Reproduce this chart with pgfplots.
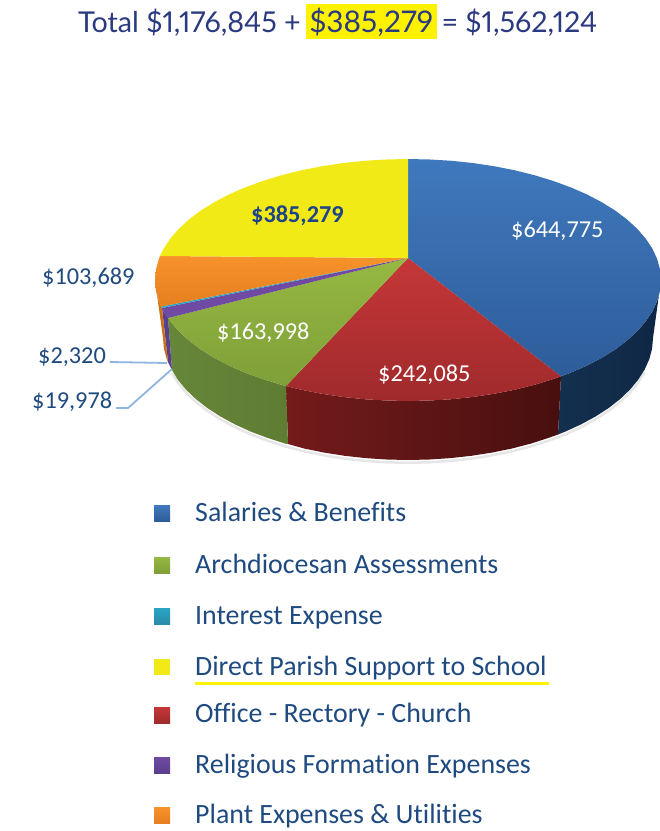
\documentclass[border=0pt]{standalone}
\usepackage{fontspec}
\setmainfont{Carlito}[Ligatures=NoCommon]
\newfontfamily\titlefont{Lato}[Numbers=Proportional]
\usepackage{pgfplots}
\pgfplotsset{compat=1.18}
\definecolor{inktitle}{HTML}{2B3A80}
\definecolor{inklabel}{HTML}{1F4A80}
\definecolor{inkbold}{HTML}{1D4388}
\definecolor{hilite}{HTML}{FFF200}
\definecolor{leader}{HTML}{8FB4E0}
\definecolor{blueA}{HTML}{3F79BD}
\definecolor{blueB}{HTML}{2E5C9A}
\definecolor{blueSa}{HTML}{14304F}
\definecolor{blueSb}{HTML}{0F2745}
\definecolor{redA}{HTML}{C53738}
\definecolor{redB}{HTML}{A02A2C}
\definecolor{redSa}{HTML}{741B1B}
\definecolor{redSb}{HTML}{480F0F}
\definecolor{greenA}{HTML}{96B842}
\definecolor{greenB}{HTML}{7F9F38}
\definecolor{greenSa}{HTML}{66863A}
\definecolor{greenSb}{HTML}{5F7D32}
\definecolor{purpA}{HTML}{6F4AA2}
\definecolor{purpB}{HTML}{5B3F8F}
\definecolor{orgA}{HTML}{F8922A}
\definecolor{orgB}{HTML}{E57F20}
\definecolor{orgS}{HTML}{C9701A}
\definecolor{yell}{HTML}{F1EA17}
\definecolor{teal}{HTML}{2AA5C4}
\definecolor{tealB}{HTML}{2A8AA8}
\pgfplotsset{face/.style={draw=none,no markers,forget plot}}
\newcommand{\legendtext}{\fontsize{27.9}{29}\selectfont\color{inklabel}}
\newcommand{\valtext}{\fontsize{24.3}{26}\selectfont}
\newcommand{\titletext}{\titlefont\fontsize{28.7}{30}\selectfont\color{inktitle}}
\newcommand{\titlemark}{\titlefont\fontsize{29.8}{30}\selectfont\color{inktitle}}

\begin{document}
\begin{tikzpicture}
\begin{axis}[
  scale only axis,
  width=660pt, height=831pt,
  xmin=0, xmax=660, ymin=0, ymax=831,
  y dir=reverse,
  hide axis,
]
% keep the whole frame in the page
\path (axis cs:0,0) (axis cs:660,831);
% soft shadow under the pie
\addplot[forget plot,no markers,color=gray,opacity=.2,line width=2.5pt] coordinates {
 (172,373)(177.8,382.5)(186,392.4)(195.8,401.8)(207.3,410.8)(220.3,419.2)(234.8,427.1)(250.5,434.3)(267.5,440.7)(285.5,446.5)(304.5,451.4)(324.2,455.4)(344.6,458.6)(365.5,460.9)(386.6,462.3)(408,462.8)(429.4,462.3)(450.5,460.9)(471.4,458.6)(491.8,455.4)(511.5,451.4)(530.5,446.5)(548.5,440.7)(565.5,434.3)(581.2,427.1)(595.7,419.2)(608.7,410.8)(620.2,401.8)(630,392.4)(638.2,382.5)(644.6,372.4)
};
% sides of the pie
\addplot[face,left color=blueSa,right color=blueSb] coordinates {
 (661,280)(660,290.6)(657.2,301)(652.4,311.3)(645.7,321.4)(637.3,331.1)(627.1,340.5)(615.3,349.4)(601.8,357.8)(586.9,365.6)(570.6,372.7)(561,376.3)
 (558,434.5)(565.5,431.5)(581.2,424.3)(595.7,416.4)(608.7,408)(620.2,399)(630,389.6)(638.2,379.7)(644.6,369.6)(649.3,359.2)(652.1,348.6)(653,338)
};
\addplot[face,left color=redSa,right color=redSb] coordinates {
 (561,376.3)(553.1,379.1)(534.5,384.8)(514.9,389.7)(494.5,393.7)(473.5,396.9)(451.9,399.2)(430.1,400.5)(408,401)(385.9,400.5)(364.1,399.2)(342.5,396.9)(321.5,393.7)(301.1,389.7)(286,386)
 (288,444)(304.5,448.6)(324.2,452.6)(344.6,455.8)(365.5,458.1)(386.6,459.5)(408,460)(429.4,459.5)(450.5,458.1)(471.4,455.8)(491.8,452.6)(511.5,448.6)(530.5,443.7)(548.5,437.9)(558,434.5)
};
\addplot[face,left color=greenSa,right color=greenSb] coordinates {
 (286,386)(281.5,384.8)(262.9,379.1)(245.4,372.7)(229.1,365.6)(214.2,357.8)(200.7,349.4)(188.9,340.5)(178.7,331.1)(170.3,321.4)(168,318)
 (172,370)(177.8,379.7)(186,389.6)(195.8,399)(207.3,408)(220.3,416.4)(234.8,424.3)(250.5,431.5)(267.5,437.9)(285.5,443.7)(288,444)
};
\addplot[face,fill=purpB] coordinates {
 (168,318)(163.6,311.3)(162,308)(168,362)(172,370)
};
\addplot[face,fill=orgS] coordinates {
 (162,308)(158.8,301)(156,290.6)(155,280)(163,338)(163.9,348.6)(166.7,359.2)(168,362)
};
% top faces
\addplot[face,top color=blueA,bottom color=blueB] coordinates {
 (408,258)(408,159)(430.1,159.5)(451.9,160.8)(473.5,163.1)(494.5,166.3)(514.9,170.3)(534.5,175.2)(553.1,180.9)(570.6,187.3)(586.9,194.4)(601.8,202.2)(615.3,210.6)(627.1,219.5)(637.3,228.9)(645.7,238.6)(652.4,248.7)(657.2,259)(660,269.4)(661,280)(660,290.6)(657.2,301)(652.4,311.3)(645.7,321.4)(637.3,331.1)(627.1,340.5)(615.3,349.4)(601.8,357.8)(586.9,365.6)(570.6,372.7)(561,376.3)
};
\addplot[face,top color=redA,bottom color=redB] coordinates {
 (408,258)(561,376.3)(553.1,379.1)(534.5,384.8)(514.9,389.7)(494.5,393.7)(473.5,396.9)(451.9,399.2)(430.1,400.5)(408,401)(385.9,400.5)(364.1,399.2)(342.5,396.9)(321.5,393.7)(301.1,389.7)(286,386)
};
\addplot[face,top color=greenA,bottom color=greenB] coordinates {
 (408,258)(286,386)(281.5,384.8)(262.9,379.1)(245.4,372.7)(229.1,365.6)(214.2,357.8)(200.7,349.4)(188.9,340.5)(178.7,331.1)(170.3,321.4)(168,318)
};
\addplot[face,fill=purpA] coordinates {
 (408,258)(168,318)(163.6,311.3)(162,308)
};
\addplot[face,fill=teal] coordinates {
 (408,258)(162,308)(161.3,306.5)
};
\addplot[face,top color=orgA,bottom color=orgB] coordinates {
 (408,258)(161.3,306.5)(158.8,301)(156,290.6)(155,280)(156,269.4)(158.8,259)(160,256)
};
\addplot[face,fill=yell] coordinates {
 (408,258)(160,256)(163.6,248.7)(170.3,238.6)(178.7,228.9)(188.9,219.5)(200.7,210.6)(214.2,202.2)(229.1,194.4)(245.4,187.3)(262.9,180.9)(281.5,175.2)(301.1,170.3)(321.5,166.3)(342.5,163.1)(364.1,160.8)(385.9,159.5)(408,159)
};
% leader lines
\addplot[forget plot,no markers,color=leader,line width=1.8pt] coordinates {(110,362)(167,363)};
\addplot[forget plot,no markers,color=leader,line width=1.8pt] coordinates {(116,408)(128,408)(172,369)};
% title highlight
\addplot[face,fill=hilite] coordinates {(305.5,3.5)(437,3.5)(437,39)(305.5,39)};
% legend swatches
\addplot[face,top color=blueA,bottom color=blueB] coordinates {(154,505)(170,505)(170,521)(154,521)};
\addplot[face,top color=greenA,bottom color=greenB] coordinates {(154,557)(170,557)(170,573)(154,573)};
\addplot[face,top color=teal,bottom color=tealB] coordinates {(154,608)(170,608)(170,624)(154,624)};
\addplot[face,fill=yell] coordinates {(154,659)(170,659)(170,675)(154,675)};
\addplot[face,top color=redA,bottom color=redB] coordinates {(154,707)(170,707)(170,723)(154,723)};
\addplot[face,top color=purpA,bottom color=purpB] coordinates {(154,757)(170,757)(170,773)(154,773)};
\addplot[face,top color=orgA,bottom color=orgB] coordinates {(154,807)(170,807)(170,823)(154,823)};
% yellow underline
\addplot[forget plot,no markers,color=hilite,line width=3pt] coordinates {(195,683)(549,683)};

% title
\node[anchor=base west,inner sep=0] at (axis cs:78,32) {\titletext Total \$1,176,845 +};
\node[anchor=base west,inner sep=0] at (axis cs:309.5,32) {\titlemark \$385,279};
\node[anchor=base east,inner sep=0] at (axis cs:597.5,32) {\titletext = \$1,562,124};
% values
\node[anchor=base west,inner sep=0,text=white] at (axis cs:511,237) {\valtext \$644,775};
\node[anchor=base west,inner sep=0,text=white] at (axis cs:378,381) {\valtext \$242,085};
\node[anchor=base west,inner sep=0,text=white] at (axis cs:217,339) {\valtext \$163,998};
\node[anchor=base west,inner sep=0,text=inkbold] at (axis cs:251,222) {\valtext\bfseries \$385,279};
\node[anchor=base west,inner sep=0,text=inklabel] at (axis cs:42,284) {\valtext \$103,689};
\node[anchor=base west,inner sep=0,text=inklabel] at (axis cs:38,363) {\valtext \$2,320};
\node[anchor=base west,inner sep=0,text=inklabel] at (axis cs:32,408) {\valtext \$19,978};
% legend labels
\node[anchor=base west,inner sep=0] at (axis cs:195,521) {\legendtext Salaries \& Benefits};
\node[anchor=base west,inner sep=0] at (axis cs:195,573) {\legendtext Archdiocesan Assessments};
\node[anchor=base west,inner sep=0] at (axis cs:195,624) {\legendtext Interest Expense};
\node[anchor=base west,inner sep=0] at (axis cs:195,675) {\legendtext Direct Parish Support to School};
\node[anchor=base west,inner sep=0] at (axis cs:195,722) {\legendtext Office - Rectory - Church};
\node[anchor=base west,inner sep=0] at (axis cs:195,773) {\legendtext Religious Formation Expenses};
\node[anchor=base west,inner sep=0] at (axis cs:195,823) {\legendtext Plant Expenses \& Utilities};
\end{axis}
\end{tikzpicture}
\end{document}
